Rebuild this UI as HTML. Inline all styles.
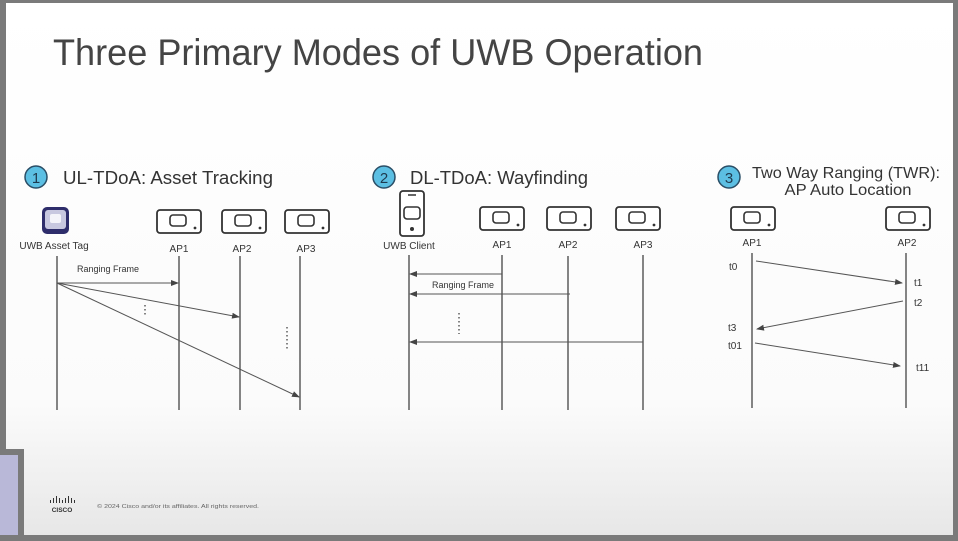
<!DOCTYPE html>
<html><head><meta charset="utf-8"><style>
html,body{margin:0;padding:0;width:958px;height:541px;overflow:hidden}
svg{display:block}
text{font-family:"Liberation Sans",sans-serif;fill:#333}
</style></head><body>
<svg width="958" height="541" viewBox="0 0 958 541" xmlns="http://www.w3.org/2000/svg">
<defs>
<linearGradient id="bg" x1="0" y1="0" x2="0" y2="1">
<stop offset="0" stop-color="#ffffff"/><stop offset="0.75" stop-color="#fbfbfb"/><stop offset="1" stop-color="#e6e6e6"/>
</linearGradient>
<marker id="ah" markerWidth="8" markerHeight="6" refX="7" refY="3" orient="auto" markerUnits="userSpaceOnUse">
<path d="M0,0 L8,3 L0,6 z" fill="#444"/></marker>
<g id="ap">
<rect x="0" y="0" width="44" height="23" rx="3" fill="#fff" stroke="#333" stroke-width="1.8"/>
<rect x="13" y="5" width="16" height="11" rx="3" fill="none" stroke="#333" stroke-width="1.6"/>
<circle cx="38" cy="18" r="1.4" fill="#333"/>
</g>
</defs>
<rect width="958" height="541" fill="url(#bg)"/>
<!-- borders -->
<rect x="0" y="0" width="958" height="3" fill="#7a7a7a"/>
<rect x="0" y="0" width="6" height="455" fill="#7a7a7a"/>
<rect x="953" y="0" width="5" height="541" fill="#7a7a7a"/>
<rect x="0" y="535" width="958" height="6" fill="#7a7a7a"/>
<rect x="0" y="449" width="24" height="6" fill="#7a7a7a"/>
<rect x="18" y="449" width="6" height="92" fill="#7a7a7a"/>
<rect x="0" y="455" width="18" height="80" fill="#b9b8d8"/>

<text x="53" y="65" font-size="37" textLength="650" lengthAdjust="spacingAndGlyphs" style="fill:#444;font-weight:300">Three Primary Modes of UWB Operation</text>

<!-- Panel 1 -->
<circle cx="36" cy="177" r="11" fill="#5cbfe3" stroke="#2a4e66" stroke-width="1.5"/>
<text x="36" y="183" font-size="15" text-anchor="middle" style="fill:#1e3a4f">1</text>
<text x="63" y="184" font-size="18" textLength="210" lengthAdjust="spacingAndGlyphs">UL-TDoA: Asset Tracking</text>
<rect x="42" y="207" width="27" height="27" rx="5" fill="#2e2d6b"/>
<rect x="45" y="210" width="21" height="19" rx="3" fill="#c8c8e0"/>
<rect x="50" y="214" width="11" height="9" rx="2" fill="#f4f4fa"/>
<text x="54" y="249" font-size="10" text-anchor="middle">UWB Asset Tag</text>
<use href="#ap" x="157" y="210"/><use href="#ap" x="222" y="210"/><use href="#ap" x="285" y="210"/>
<text x="179" y="252" font-size="10" text-anchor="middle">AP1</text>
<text x="242" y="252" font-size="10" text-anchor="middle">AP2</text>
<text x="306" y="252" font-size="10" text-anchor="middle">AP3</text>
<g stroke="#444" stroke-width="1.3">
<line x1="57" y1="256" x2="57" y2="410"/><line x1="179" y1="256" x2="179" y2="410"/>
<line x1="240" y1="256" x2="240" y2="410"/><line x1="300" y1="256" x2="300" y2="410"/>
</g>
<g stroke="#555" stroke-width="1" marker-end="url(#ah)">
<line x1="57" y1="283" x2="178" y2="283"/><line x1="57" y1="283" x2="239" y2="317"/><line x1="57" y1="283" x2="299" y2="397"/>
</g>
<text x="108" y="272" font-size="9" text-anchor="middle">Ranging Frame</text>
<line x1="145" y1="305" x2="145" y2="316" stroke="#444" stroke-width="1.3" stroke-dasharray="1.5 2.5"/>
<line x1="287" y1="327" x2="287" y2="350" stroke="#444" stroke-width="1.3" stroke-dasharray="1.5 2.5"/>

<!-- Panel 2 -->
<circle cx="384" cy="177" r="11" fill="#5cbfe3" stroke="#2a4e66" stroke-width="1.5"/>
<text x="384" y="183" font-size="15" text-anchor="middle" style="fill:#1e3a4f">2</text>
<text x="410" y="184" font-size="18" textLength="178" lengthAdjust="spacingAndGlyphs">DL-TDoA: Wayfinding</text>
<rect x="400" y="191" width="24" height="45" rx="3" fill="#fff" stroke="#333" stroke-width="1.8"/>
<line x1="408" y1="195" x2="416" y2="195" stroke="#333" stroke-width="1.5"/>
<rect x="404" y="207" width="16" height="12" rx="3" fill="none" stroke="#333" stroke-width="1.6"/>
<circle cx="412" cy="229" r="2" fill="#333"/>
<text x="409" y="249" font-size="10" text-anchor="middle">UWB Client</text>
<use href="#ap" x="480" y="207"/><use href="#ap" x="547" y="207"/><use href="#ap" x="616" y="207"/>
<text x="502" y="248" font-size="10" text-anchor="middle">AP1</text>
<text x="568" y="248" font-size="10" text-anchor="middle">AP2</text>
<text x="643" y="248" font-size="10" text-anchor="middle">AP3</text>
<g stroke="#444" stroke-width="1.3">
<line x1="409" y1="255" x2="409" y2="410"/><line x1="502" y1="255" x2="502" y2="410"/>
<line x1="568" y1="256" x2="568" y2="410"/><line x1="643" y1="255" x2="643" y2="410"/>
</g>
<g stroke="#555" stroke-width="1" marker-end="url(#ah)">
<line x1="502" y1="274" x2="410" y2="274"/><line x1="570" y1="294" x2="410" y2="294"/><line x1="643" y1="342" x2="410" y2="342"/>
</g>
<text x="463" y="288" font-size="9" text-anchor="middle">Ranging Frame</text>
<line x1="459" y1="313" x2="459" y2="334" stroke="#444" stroke-width="1.3" stroke-dasharray="1.5 2.5"/>

<!-- Panel 3 -->
<circle cx="729" cy="177" r="11" fill="#5cbfe3" stroke="#2a4e66" stroke-width="1.5"/>
<text x="729" y="183" font-size="15" text-anchor="middle" style="fill:#1e3a4f">3</text>
<text x="752" y="178" font-size="16" textLength="188" lengthAdjust="spacingAndGlyphs">Two Way Ranging (TWR):</text>
<text x="848" y="195" font-size="16" text-anchor="middle" textLength="127" lengthAdjust="spacingAndGlyphs">AP Auto Location</text>
<use href="#ap" x="731" y="207"/><use href="#ap" x="886" y="207"/>
<text x="752" y="246" font-size="10" text-anchor="middle">AP1</text>
<text x="907" y="246" font-size="10" text-anchor="middle">AP2</text>
<g stroke="#444" stroke-width="1.3">
<line x1="752" y1="253" x2="752" y2="408"/><line x1="906" y1="253" x2="906" y2="408"/>
</g>
<g stroke="#555" stroke-width="1" marker-end="url(#ah)">
<line x1="756" y1="261" x2="902" y2="283"/><line x1="903" y1="301" x2="757" y2="329"/><line x1="755" y1="343" x2="900" y2="366"/>
</g>
<g font-size="10">
<text x="729" y="270">t0</text><text x="914" y="286">t1</text><text x="914" y="306">t2</text>
<text x="728" y="331">t3</text><text x="728" y="349">t01</text><text x="916" y="371">t11</text>
</g>

<!-- footer -->
<g fill="#333">
<rect x="50" y="500" width="1" height="3"/><rect x="53" y="498" width="1" height="5"/><rect x="56" y="496" width="1" height="7"/>
<rect x="59" y="498" width="1" height="5"/><rect x="62" y="500" width="1" height="3"/><rect x="65" y="498" width="1" height="5"/>
<rect x="68" y="496" width="1" height="7"/><rect x="71" y="498" width="1" height="5"/><rect x="74" y="500" width="1" height="3"/>
</g>
<text x="62" y="512" font-size="6.5" text-anchor="middle" font-weight="bold">CISCO</text>
<text x="97" y="508" font-size="5.5" style="fill:#666" textLength="162" lengthAdjust="spacingAndGlyphs">© 2024  Cisco and/or its affiliates. All rights reserved.</text>
</svg>
</body></html>
